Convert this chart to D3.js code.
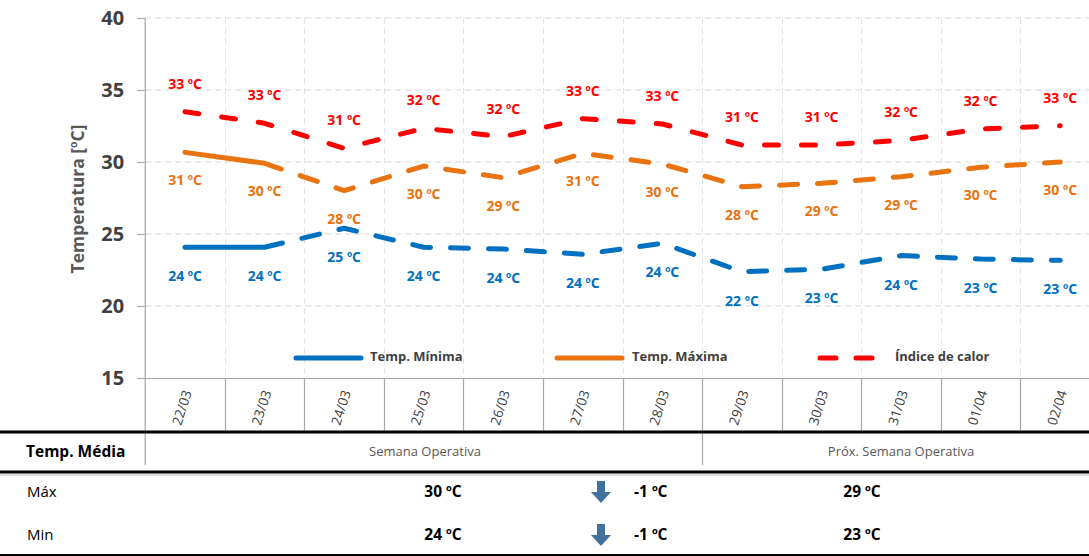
<!DOCTYPE html>
<html>
<head>
<meta charset="utf-8">
<script src="https://cdn.jsdelivr.net/npm/d3@7"></script>
<style>
  body { margin: 0; background: #fff; }
  svg { display: block; font-family: "Open Sans", "Noto Sans", sans-serif; }
  .ord { font-family: "Liberation Sans", Arial, sans-serif; }
</style>
</head>
<body>
<svg id="chart" width="1089" height="556"></svg>
<script>
// ---------- DATA ----------
const categories = ["22/03","23/03","24/03","25/03","26/03","27/03","28/03","29/03","30/03","31/03","01/04","02/04"];
const tempMin   = [24.08, 24.08, 25.40, 24.08, 23.96, 23.59, 24.35, 22.38, 22.55, 23.50, 23.26, 23.17];
const tempMax   = [30.67, 29.91, 28.01, 29.72, 28.91, 30.60, 29.86, 28.28, 28.52, 28.98, 29.63, 30.00];
const heatIndex = [33.49, 32.69, 30.95, 32.34, 31.76, 33.01, 32.64, 31.18, 31.18, 31.50, 32.29, 32.52];
const yTicks = [15, 20, 25, 30, 35, 40];
const seriesNames = ["Temp. Mínima", "Temp. Máxima", "Índice de calor"];
const tableTitle = "Temp. Média";
const periodNames = ["Semana Operativa", "Próx. Semana Operativa"];
const rowNames = ["Máx", "Min"];
const weekAvg = [30, 24];
const weekDelta = [-1, -1];
const nextWeekAvg = [29, 23];

// ---------- LAYOUT ----------
const svg = d3.select("#chart");
const W = 1089, H = 556;
const plotLeft = 145.2, plotRight = 1100, plotTop = 18, plotBottom = 378;
const axisBandBottom = 432;

const x = d3.scaleBand().domain(categories).range([plotLeft, plotRight]).padding(0);
const y = d3.scaleLinear().domain([15, 40]).range([plotBottom, plotTop]);
const cx = d => x(d) + x.bandwidth() / 2;

const colors = { min: "#0070c0", max: "#e8730f", heat: "#ff0000" };
const textDark = "#404040";

// writes "<n> ºC" with an underlined ordinal glyph
function degText(sel, v) {
  sel.append("tspan").text(`${v} `);
  sel.append("tspan").attr("class", "ord").text("º");
  sel.append("tspan").text("C");
}

svg.append("rect").attr("width", W).attr("height", H).attr("fill", "#fff");

// grid: horizontal
svg.append("g").selectAll("line").data(yTicks.filter(t => t !== 15)).join("line")
  .attr("x1", plotLeft).attr("x2", W)
  .attr("y1", d => y(d)).attr("y2", d => y(d))
  .attr("stroke", "#d9d9d9").attr("stroke-width", 1).attr("stroke-dasharray", "6,4");

// grid: vertical (category boundaries)
svg.append("g").selectAll("line").data(categories.slice(1)).join("line")
  .attr("x1", d => Math.round(x(d)) + 0.5).attr("x2", d => Math.round(x(d)) + 0.5)
  .attr("y1", plotTop).attr("y2", plotBottom)
  .attr("stroke", "#dde6ea").attr("stroke-width", 1).attr("stroke-dasharray", "6,4");

// y axis
const yAxis = d3.axisLeft(y).tickValues(yTicks).tickSize(8).tickPadding(6);
const gy = svg.append("g").attr("transform", `translate(${plotLeft},0)`).call(yAxis);
gy.select(".domain").remove();
gy.selectAll(".tick line").attr("stroke", "#a6a6a6");
gy.selectAll(".tick text").attr("fill", textDark).attr("font-size", 20).attr("font-weight", "bold")
  .attr("font-family", "'Open Sans', sans-serif").attr("dx", -7);
svg.append("line").attr("x1", plotLeft).attr("x2", plotLeft).attr("y1", plotTop).attr("y2", 465)
  .attr("stroke", "#a6a6a6").attr("stroke-width", 1.2);

// y title
const yt = svg.append("text").attr("transform", `translate(84,199) rotate(-90)`)
  .attr("text-anchor", "middle").attr("font-size", 17.5).attr("font-weight", "bold")
  .attr("fill", "#595959");
yt.append("tspan").text("Temperatura [");
yt.append("tspan").attr("class", "ord").text("º");
yt.append("tspan").text("C]");

// x axis line and band dividers
svg.append("line").attr("x1", plotLeft).attr("x2", W).attr("y1", plotBottom + 0.5).attr("y2", plotBottom + 0.5)
  .attr("stroke", "#a6a6a6").attr("stroke-width", 1.2);
svg.append("g").selectAll("line").data(categories.slice(1)).join("line")
  .attr("x1", d => Math.round(x(d)) + 0.5).attr("x2", d => Math.round(x(d)) + 0.5)
  .attr("y1", plotBottom).attr("y2", d => d === "29/03" ? 465 : axisBandBottom)
  .attr("stroke", "#a6a6a6").attr("stroke-width", 1.2);

// x labels rotated
svg.append("g").selectAll("text").data(categories).join("text")
  .attr("transform", d => `translate(${cx(d) - 2},${408}) rotate(-72)`)
  .attr("text-anchor", "middle").attr("dominant-baseline", "middle")
  .attr("font-size", 13.5).attr("fill", textDark).text(d => d);

// ---------- LINES ----------
const line = d3.line().x((d, i) => cx(categories[i])).y(d => y(d)).curve(d3.curveLinear);

function dashList(first, dash, gap, total) {
  const arr = [first];
  let len = first;
  while (len < total) { arr.push(gap, dash); len += gap + dash; }
  return arr.join(",");
}

const series = [
  { key: "min", data: tempMin, dash: dashList(98, 18, 20, 1400), labelDy: 30 },
  { key: "max", data: tempMax, dash: dashList(98, 18, 20, 1400), labelDy: 29 },
  { key: "heat", data: heatIndex, dash: "14,23", labelDy: -27 }
];

series.forEach(s => {
  svg.append("path").datum(s.data)
    .attr("d", line).attr("fill", "none")
    .attr("stroke", colors[s.key]).attr("stroke-width", 5)
    .attr("stroke-linecap", "round").attr("stroke-linejoin", "round")
    .attr("stroke-dasharray", s.dash);
  svg.append("g").selectAll("text").data(s.data).join("text")
    .attr("x", (d, i) => cx(categories[i]))
    .attr("y", d => y(d) + s.labelDy)
    .attr("text-anchor", "middle").attr("dominant-baseline", "middle")
    .attr("font-size", 14).attr("font-weight", "bold").attr("fill", colors[s.key])
    .each(function(d) { degText(d3.select(this), Math.round(d)); });
});

// ---------- LEGEND ----------
const legendY = 358;
const legend = [
  { key: "min", x0: 296, x1: 361, tx: 370, dash: null },
  { key: "max", x0: 557, x1: 622, tx: 632, dash: null },
  { key: "heat", x0: 820, x1: 874, tx: 895, dash: "16,20" }
];
legend.forEach((l, i) => {
  svg.append("line").attr("x1", l.x0).attr("x2", l.x1).attr("y1", legendY).attr("y2", legendY)
    .attr("stroke", colors[l.key]).attr("stroke-width", 5).attr("stroke-linecap", "round")
    .attr("stroke-dasharray", l.dash);
  svg.append("text").attr("x", l.tx).attr("y", legendY).attr("dominant-baseline", "middle")
    .attr("font-size", 13).attr("font-weight", "bold").attr("fill", textDark).text(seriesNames[i]);
});

// ---------- TABLE ----------
svg.append("line").attr("x1", 0).attr("x2", W).attr("y1", axisBandBottom).attr("y2", axisBandBottom)
  .attr("stroke", "#000").attr("stroke-width", 3);
svg.append("line").attr("x1", 0).attr("x2", W).attr("y1", 472).attr("y2", 472)
  .attr("stroke", "#000").attr("stroke-width", 3);
svg.append("line").attr("x1", 0).attr("x2", W).attr("y1", 475).attr("y2", 475)
  .attr("stroke", "#bfbfbf").attr("stroke-width", 1);
svg.append("line").attr("x1", 0).attr("x2", W).attr("y1", 555).attr("y2", 555)
  .attr("stroke", "#000").attr("stroke-width", 2);

svg.append("text").attr("x", 26).attr("y", 453).attr("dominant-baseline", "middle")
  .attr("font-size", 15.5).attr("font-weight", "bold").attr("fill", "#000").text(tableTitle);
svg.append("text").attr("x", 425).attr("y", 453).attr("text-anchor", "middle").attr("dominant-baseline", "middle")
  .attr("font-size", 13).attr("fill", "#595959").text(periodNames[0]);
svg.append("text").attr("x", 901).attr("y", 453).attr("text-anchor", "middle").attr("dominant-baseline", "middle")
  .attr("font-size", 13).attr("fill", "#595959").text(periodNames[1]);

const rowY = [493, 536];
rowNames.forEach((r, i) => {
  const yy = rowY[i];
  svg.append("text").attr("x", 27).attr("y", yy).attr("dominant-baseline", "middle")
    .attr("font-size", 15).attr("fill", "#000").text(r);
  svg.append("text").attr("x", 443).attr("y", yy).attr("text-anchor", "middle").attr("dominant-baseline", "middle")
    .attr("font-size", 15.5).attr("font-weight", "bold").attr("fill", "#000")
    .call(sel => degText(sel, weekAvg[i]));
  // arrow
  const ax = 601, ay = yy - 12;
  const down = weekDelta[i] < 0;
  const pts = down
    ? [[ax-4,ay],[ax+4,ay],[ax+4,ay+11],[ax+10,ay+11],[ax,ay+22],[ax-10,ay+11],[ax-4,ay+11]]
    : [[ax-4,ay+22],[ax+4,ay+22],[ax+4,ay+11],[ax+10,ay+11],[ax,ay],[ax-10,ay+11],[ax-4,ay+11]];
  svg.append("path").attr("d", "M" + pts.map(p => p.join(",")).join("L") + "Z").attr("fill", "#41719c");
  svg.append("text").attr("x", 634).attr("y", yy).attr("dominant-baseline", "middle")
    .attr("font-size", 15.5).attr("font-weight", "bold").attr("fill", "#000")
    .call(sel => degText(sel, weekDelta[i]));
  svg.append("text").attr("x", 862).attr("y", yy).attr("text-anchor", "middle").attr("dominant-baseline", "middle")
    .attr("font-size", 15.5).attr("font-weight", "bold").attr("fill", "#000")
    .call(sel => degText(sel, nextWeekAvg[i]));
});
</script>
</body>
</html>
